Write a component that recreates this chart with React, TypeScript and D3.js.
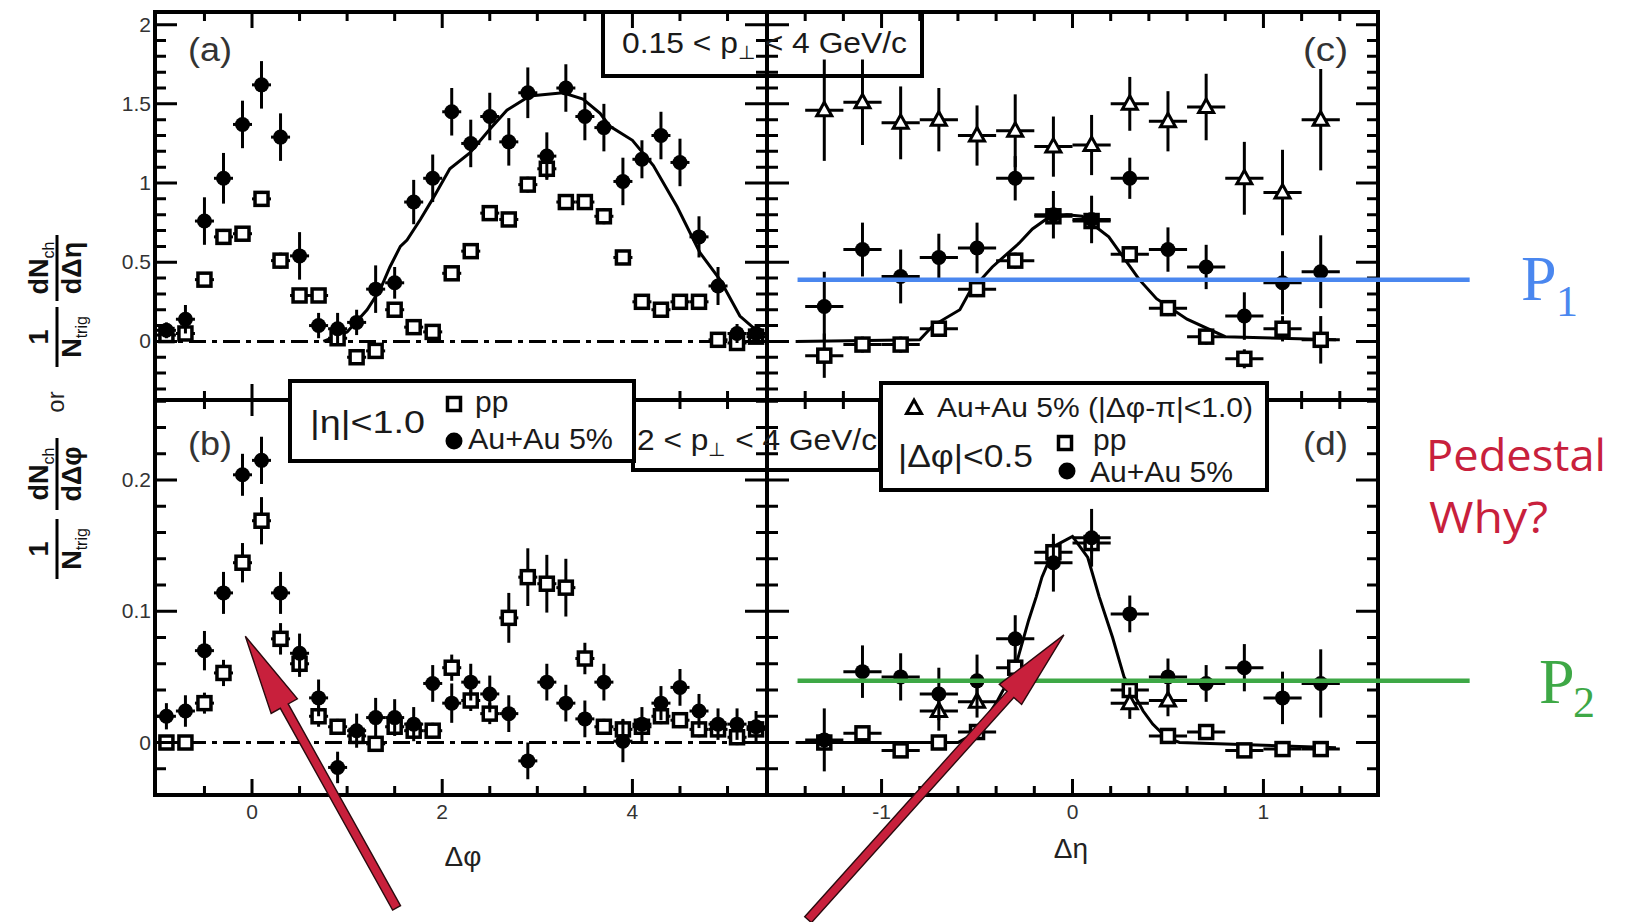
import React from "react";
import * as d3 from "d3";

// ---------- binning ----------
const phiBins = [-0.9, -0.7, -0.5, -0.3, -0.1, 0.1, 0.3, 0.5, 0.7, 0.9, 1.1, 1.3, 1.5, 1.7, 1.9, 2.1, 2.3, 2.5, 2.7, 2.9, 3.1, 3.3, 3.5, 3.7, 3.9, 4.1, 4.3, 4.5, 4.7, 4.9, 5.1, 5.3];
const etaBins = [-1.3, -1.1, -0.9, -0.7, -0.5, -0.3, -0.1, 0.1, 0.3, 0.5, 0.7, 0.9, 1.1, 1.3];

// ---------- (a) dN/dΔφ, 0.15 < pT < 4 GeV/c ----------
const aAuAu = [0.07, 0.14, 0.76, 1.03, 1.37, 1.62, 1.29, 0.54, 0.10, 0.08, 0.12, 0.33, 0.37, 0.88, 1.03, 1.45, 1.25, 1.42, 1.26, 1.57, 1.17, 1.60, 1.42, 1.35, 1.01, 1.15, 1.30, 1.13, 0.66, 0.35, 0.05, 0.05];
const aAuAuErr = [0.05, 0.09, 0.15, 0.16, 0.15, 0.15, 0.15, 0.15, 0.08, 0.10, 0.08, 0.15, 0.10, 0.14, 0.15, 0.15, 0.15, 0.15, 0.15, 0.16, 0.15, 0.15, 0.15, 0.15, 0.15, 0.12, 0.15, 0.15, 0.13, 0.12, 0.06, 0.06];
const aPP = [0.04, 0.05, 0.39, 0.66, 0.68, 0.90, 0.51, 0.29, 0.29, 0.02, -0.10, -0.06, 0.20, 0.09, 0.06, 0.43, 0.57, 0.81, 0.77, 0.99, 1.09, 0.88, 0.88, 0.79, 0.53, 0.25, 0.20, 0.25, 0.25, 0.01, -0.01, 0.03];
const aPPErr = [0.03, 0.03, 0.04, 0.05, 0.04, 0.05, 0.05, 0.04, 0.04, 0.03, 0.04, 0.04, 0.04, 0.03, 0.03, 0.04, 0.04, 0.04, 0.04, 0.05, 0.06, 0.05, 0.05, 0.05, 0.04, 0.04, 0.04, 0.04, 0.04, 0.03, 0.03, 0.03];
const aCurvePhi = [0.75, 1.0, 1.21, 1.35, 1.45, 1.56, 1.63, 1.77, 1.9, 2.08, 2.29, 2.5, 2.68, 2.92, 3.27, 3.48, 3.66, 3.76, 4.0, 4.22, 4.47, 4.71, 4.92, 5.13, 5.34];
const aCurveVal = [0.0, 0.06, 0.20, 0.33, 0.47, 0.60, 0.64, 0.77, 0.90, 1.09, 1.19, 1.34, 1.46, 1.55, 1.57, 1.53, 1.44, 1.36, 1.27, 1.11, 0.85, 0.56, 0.39, 0.16, 0.05];

// ---------- (b) dN/dΔφ, 2 < pT < 4 GeV/c ----------
const bAuAu = [0.020, 0.024, 0.070, 0.114, 0.204, 0.215, 0.114, 0.068, 0.034, -0.019, 0.009, 0.019, 0.019, 0.014, 0.045, 0.030, 0.046, 0.037, 0.022, -0.014, 0.046, 0.030, 0.018, 0.046, 0.001, 0.014, 0.030, 0.042, 0.024, 0.014, 0.014, 0.012];
const bAuAuErr = [0.010, 0.012, 0.015, 0.016, 0.016, 0.018, 0.016, 0.015, 0.014, 0.012, 0.013, 0.015, 0.014, 0.013, 0.014, 0.015, 0.014, 0.014, 0.014, 0.014, 0.014, 0.014, 0.014, 0.014, 0.016, 0.013, 0.013, 0.014, 0.013, 0.012, 0.012, 0.012];
const bPP = [0.0, 0.0, 0.030, 0.053, 0.137, 0.169, 0.079, 0.060, 0.020, 0.012, 0.005, -0.001, 0.012, 0.009, 0.009, 0.057, 0.032, 0.022, 0.095, 0.126, 0.121, 0.118, 0.064, 0.012, 0.010, 0.012, 0.020, 0.017, 0.010, 0.010, 0.004, 0.010];
const bPPErr = [0.005, 0.005, 0.008, 0.010, 0.015, 0.018, 0.012, 0.010, 0.008, 0.006, 0.006, 0.006, 0.006, 0.006, 0.006, 0.010, 0.008, 0.008, 0.019, 0.022, 0.022, 0.022, 0.012, 0.006, 0.008, 0.006, 0.006, 0.006, 0.006, 0.006, 0.006, 0.006];

// ---------- (c) dN/dΔη, 0.15 < pT < 4 GeV/c ----------
const cAway = [1.46, 1.51, 1.38, 1.40, 1.30, 1.33, 1.23, 1.24, 1.50, 1.39, 1.48, 1.03, 0.94, 1.40];
const cAwayErr = [0.32, 0.27, 0.23, 0.20, 0.19, 0.23, 0.19, 0.19, 0.17, 0.19, 0.21, 0.23, 0.27, 0.32];
const cNear = [0.22, 0.58, 0.41, 0.53, 0.59, 1.03, 0.80, 0.77, 1.03, 0.58, 0.47, 0.16, 0.37, 0.44];
const cNearErr = [0.22, 0.17, 0.17, 0.15, 0.16, 0.14, 0.15, 0.15, 0.13, 0.14, 0.14, 0.15, 0.20, 0.23];
const cPP = [-0.09, -0.02, -0.02, 0.08, 0.33, 0.51, 0.79, 0.76, 0.55, 0.21, 0.03, -0.11, 0.08, 0.01];
const cPPErr = [0.14, 0.05, 0.05, 0.05, 0.05, 0.05, 0.05, 0.05, 0.05, 0.05, 0.05, 0.06, 0.08, 0.15];
const cCurveEta = [-1.45, -0.8, -0.73, -0.59, -0.54, -0.42, -0.28, -0.21, -0.14, -0.03, 0.05, 0.19, 0.35, 0.44, 0.6, 0.8, 1.38];
const cCurveVal = [0.0, 0.01, 0.10, 0.20, 0.31, 0.47, 0.62, 0.71, 0.77, 0.80, 0.79, 0.66, 0.39, 0.27, 0.14, 0.03, 0.01];

// ---------- (d) dN/dΔη, 2 < pT < 4 GeV/c ----------
const dNear = [0.002, 0.054, 0.050, 0.037, 0.047, 0.079, 0.137, 0.156, 0.098, 0.050, 0.045, 0.057, 0.034, 0.045];
const dNearErr = [0.024, 0.020, 0.018, 0.020, 0.020, 0.018, 0.022, 0.022, 0.014, 0.014, 0.014, 0.018, 0.020, 0.026];
const dPP = [0.0, 0.007, -0.006, 0.0, 0.008, 0.057, 0.145, 0.152, 0.040, 0.005, 0.008, -0.006, -0.005, -0.005];
const dPPErr = [0.004, 0.004, 0.004, 0.004, 0.004, 0.006, 0.008, 0.008, 0.006, 0.004, 0.004, 0.004, 0.004, 0.004];
const dAwayEta = [-0.7, -0.5, 0.3, 0.5];
const dAway = [0.024, 0.031, 0.030, 0.032];
const dAwayErr = [0.015, 0.012, 0.012, 0.012];
const dCurveEta = [-1.45, -0.6, -0.5, -0.4, -0.3, -0.23, -0.19, -0.16, -0.09, 0.0, 0.08, 0.14, 0.21, 0.27, 0.31, 0.37, 0.42, 0.49, 0.56, 1.38];
const dCurveVal = [0.0, 0.0, 0.008, 0.03, 0.057, 0.093, 0.111, 0.126, 0.15, 0.157, 0.141, 0.111, 0.08, 0.05, 0.04, 0.024, 0.014, 0.004, 0.0, -0.004];

// ---------- pedestal levels ----------
const P1 = 0.39;
const P2 = 0.047;

// ---------- axis ticks / labels ----------
const phiTickVals = [-0.5, 0, 0.5, 1, 1.5, 2, 2.5, 3, 3.5, 4, 4.5, 5];
const phiMajor = [0, 2, 4];
const etaTickVals = [-1.4, -1.2, -1, -0.8, -0.6, -0.4, -0.2, 0, 0.2, 0.4, 0.6, 0.8, 1, 1.2, 1.4];
const etaMajor = [-1, 0, 1];
const topYTickVals = [-0.3, -0.2, -0.1, 0, 0.1, 0.2, 0.3, 0.4, 0.5, 0.6, 0.7, 0.8, 0.9, 1, 1.1, 1.2, 1.3, 1.4, 1.5, 1.6, 1.7, 1.8, 1.9, 2];
const topYMajor = [0, 0.5, 1, 1.5, 2];
const botYTickVals = [-0.02, 0, 0.02, 0.04, 0.06, 0.08, 0.1, 0.12, 0.14, 0.16, 0.18, 0.2, 0.22, 0.24, 0.26];
const botYMajor = [0, 0.1, 0.2];
const topYLabels = ["0", "0.5", "1", "1.5", "2"];
const botYLabels = ["0", "0.1", "0.2"];
const phiLabels = ["0", "2", "4"];
const etaLabels = ["-1", "0", "1"];

const W = 1625;
const H = 922;
const L = 155, R = 1378, T = 12, M = 400, B = 795, XM = 767;

const SANS = "'Liberation Sans', Arial, Helvetica, sans-serif";
const SERIF = "'Liberation Serif', 'Times New Roman', serif";
const BLUE = "#4a87ef";
const GREEN = "#3ea846";
const RED = "#c8203c";

type Kind = "filled" | "square" | "triangle";

function Marker({ kind, x, y }: { kind: Kind; x: number; y: number }) {
  if (kind === "filled") return <circle cx={x} cy={y} r={7.5} fill="#000" />;
  if (kind === "square")
    return <rect x={x - 6.5} y={y - 6.5} width={13} height={13} fill="#fff" stroke="#000" strokeWidth={3.5} />;
  return (
    <path d={`M${x},${y - 8}L${x + 7.5},${y + 5.5}L${x - 7.5},${y + 5.5}Z`} fill="#fff" stroke="#000" strokeWidth={3} />
  );
}

function Series(props: {
  xs: number[]; ys: number[]; errs: number[]; half: number; kind: Kind;
  xs_: d3.ScaleLinear<number, number>; ys_: d3.ScaleLinear<number, number>;
}) {
  const { xs, ys, errs, half, kind, xs_, ys_ } = props;
  return (
    <g>
      {xs.map((xv, i) => {
        const cx = xs_(xv);
        const cy = ys_(ys[i]);
        return (
          <g key={i}>
            <line x1={cx} x2={cx} y1={ys_(ys[i] - errs[i])} y2={ys_(ys[i] + errs[i])} stroke="#000" strokeWidth={3} />
            <line x1={xs_(xv - half)} x2={xs_(xv + half)} y1={cy} y2={cy} stroke="#000" strokeWidth={3} />
            <Marker kind={kind} x={cx} y={cy} />
          </g>
        );
      })}
    </g>
  );
}

function Fraction(props: { cy: number; len: number; num: string; numSub?: string; den: string; denSub?: string }) {
  const bx = 57;
  const { cy, len, num, numSub, den, denSub } = props;
  return (
    <g fontFamily={SANS} fill="#111">
      <line x1={bx} x2={bx} y1={cy - len / 2} y2={cy + len / 2} stroke="#000" strokeWidth={3} />
      <text transform={`translate(${bx - 9},${cy}) rotate(-90)`} textAnchor="middle" fontSize={27} fontWeight="bold">
        {num}
        {numSub ? <tspan fontSize={16} fontWeight="normal" dy={6}>{numSub}</tspan> : null}
      </text>
      <text transform={`translate(${bx + 24},${cy}) rotate(-90)`} textAnchor="middle" fontSize={27} fontWeight="bold">
        {den}
        {denSub ? <tspan fontSize={16} fontWeight="normal" dy={6}>{denSub}</tspan> : null}
      </text>
    </g>
  );
}

function Arrow({ x0, y0, x1, y1 }: { x0: number; y0: number; x1: number; y1: number }) {
  const dx = x1 - x0, dy = y1 - y0;
  const len = Math.hypot(dx, dy);
  const ux = dx / len, uy = dy / len;
  const nx = -uy, ny = ux;
  const sw = 4.5, hw = 15, hl = 80;
  const bx = x1 - ux * hl, by = y1 - uy * hl;
  const pts = [
    [x0 + nx * sw, y0 + ny * sw],
    [bx + nx * sw, by + ny * sw],
    [bx + nx * hw, by + ny * hw],
    [x1, y1],
    [bx - nx * hw, by - ny * hw],
    [bx - nx * sw, by - ny * sw],
    [x0 - nx * sw, y0 - ny * sw],
  ];
  return <polygon points={pts.map((p) => p.join(",")).join(" ")} fill={RED} stroke="#2a0a0e" strokeWidth={1.4} strokeLinejoin="miter" />;
}

export default function App() {
  const xPhi = d3.scaleLinear().domain([-1.02, 5.415]).range([L, XM]);
  const xEta = d3.scaleLinear().domain([-1.6, 1.6]).range([XM, R]);
  const yTop = d3.scaleLinear().domain([-0.37, 2.08]).range([M, T]);
  const yBot = d3.scaleLinear().domain([-0.04, 0.261]).range([B, M]);

  const near = (a: number, list: number[]) => list.some((v) => Math.abs(v - a) < 1e-6);

  // tick segments
  const segs: number[][] = [];
  phiTickVals.forEach((t) => {
    const len = near(t, phiMajor) ? 16 : 9;
    const x = xPhi(t);
    segs.push([x, B, x, B - len], [x, M, x, M - len], [x, M, x, M + len], [x, T, x, T + len]);
  });
  etaTickVals.forEach((t) => {
    const len = near(t, etaMajor) ? 16 : 9;
    const x = xEta(t);
    segs.push([x, B, x, B - len], [x, M, x, M - len], [x, M, x, M + len], [x, T, x, T + len]);
  });
  topYTickVals.forEach((t) => {
    const len = near(t, topYMajor) ? 22 : 11;
    const y = yTop(t);
    segs.push([L, y, L + len, y], [XM, y, XM - len, y], [XM, y, XM + len, y], [R, y, R - len, y]);
  });
  botYTickVals.forEach((t) => {
    const len = near(t, botYMajor) ? 22 : 11;
    const y = yBot(t);
    segs.push([L, y, L + len, y], [XM, y, XM - len, y], [XM, y, XM + len, y], [R, y, R - len, y]);
  });
  const tickPath = segs.map((s) => `M${s[0]},${s[1]}L${s[2]},${s[3]}`).join("");

  const lineA = d3.line<number>().x((_, i) => xPhi(aCurvePhi[i])).y((v) => yTop(v));
  const lineC = d3.line<number>().x((_, i) => xEta(cCurveEta[i])).y((v) => yTop(v));
  const lineD = d3.line<number>().x((_, i) => xEta(dCurveEta[i])).y((v) => yBot(v));

  const dash = "17 6 5 6";

  return (
    <svg width={W} height={H} style={{ position: "absolute", left: 0, top: 0, display: "block" }} xmlns="http://www.w3.org/2000/svg">
      <rect x={0} y={0} width={W} height={H} fill="#fff" />

      {/* zero reference lines */}
      <line x1={L} x2={XM} y1={yTop(0)} y2={yTop(0)} stroke="#000" strokeWidth={3} strokeDasharray={dash} />
      <line x1={L} x2={XM} y1={yBot(0)} y2={yBot(0)} stroke="#000" strokeWidth={3} strokeDasharray={dash} />

      {/* smooth references */}
      <path d={lineA(aCurveVal) || ""} fill="none" stroke="#000" strokeWidth={3} />
      <path d={lineC(cCurveVal) || ""} fill="none" stroke="#000" strokeWidth={3} />
      <path d={lineD(dCurveVal) || ""} fill="none" stroke="#000" strokeWidth={3} />

      {/* (a) */}
      <Series xs={phiBins} ys={aPP} errs={aPPErr} half={0.1} kind="square" xs_={xPhi} ys_={yTop} />
      <Series xs={phiBins} ys={aAuAu} errs={aAuAuErr} half={0.1} kind="filled" xs_={xPhi} ys_={yTop} />
      {/* (b) */}
      <Series xs={phiBins} ys={bPP} errs={bPPErr} half={0.1} kind="square" xs_={xPhi} ys_={yBot} />
      <Series xs={phiBins} ys={bAuAu} errs={bAuAuErr} half={0.1} kind="filled" xs_={xPhi} ys_={yBot} />
      {/* (c) */}
      <Series xs={etaBins} ys={cPP} errs={cPPErr} half={0.1} kind="square" xs_={xEta} ys_={yTop} />
      <Series xs={etaBins} ys={cAway} errs={cAwayErr} half={0.1} kind="triangle" xs_={xEta} ys_={yTop} />
      <Series xs={etaBins} ys={cNear} errs={cNearErr} half={0.1} kind="filled" xs_={xEta} ys_={yTop} />
      {/* (d) */}
      <Series xs={etaBins} ys={dPP} errs={dPPErr} half={0.1} kind="square" xs_={xEta} ys_={yBot} />
      <Series xs={dAwayEta} ys={dAway} errs={dAwayErr} half={0.1} kind="triangle" xs_={xEta} ys_={yBot} />
      <Series xs={etaBins} ys={dNear} errs={dNearErr} half={0.1} kind="filled" xs_={xEta} ys_={yBot} />

      {/* frame and ticks */}
      <rect x={L} y={T} width={R - L} height={B - T} fill="none" stroke="#000" strokeWidth={4} />
      <line x1={L} x2={R} y1={M} y2={M} stroke="#000" strokeWidth={4} />
      <line x1={XM} x2={XM} y1={T} y2={B} stroke="#000" strokeWidth={4} />
      <path d={tickPath} stroke="#000" strokeWidth={3} fill="none" />

      {/* tick labels */}
      <g fontFamily={SANS} fontSize={21} fill="#333">
        {topYMajor.map((v, i) => (
          <text key={"ty" + i} x={151} y={yTop(v) + 7} textAnchor="end">{topYLabels[i]}</text>
        ))}
        {botYMajor.map((v, i) => (
          <text key={"by" + i} x={151} y={yBot(v) + 7} textAnchor="end">{botYLabels[i]}</text>
        ))}
        {phiMajor.map((v, i) => (
          <text key={"px" + i} x={xPhi(v)} y={819} textAnchor="middle">{phiLabels[i]}</text>
        ))}
        {etaMajor.map((v, i) => (
          <text key={"ex" + i} x={xEta(v)} y={819} textAnchor="middle">{etaLabels[i]}</text>
        ))}
      </g>

      {/* axis titles */}
      <g fontFamily={SANS} fontSize={28} fill="#222">
        <text x={463} y={866} textAnchor="middle">Δφ</text>
        <text x={1071} y={858} textAnchor="middle">Δη</text>
      </g>
      <Fraction cy={268} len={66} num="dN" numSub="ch" den="dΔη" />
      <Fraction cy={337} len={60} num="1" den="N" denSub="trig" />
      <text transform="translate(64,402) rotate(-90)" textAnchor="middle" fontFamily={SANS} fontSize={24} fill="#222">or</text>
      <Fraction cy={474} len={72} num="dN" numSub="ch" den="dΔφ" />
      <Fraction cy={549} len={60} num="1" den="N" denSub="trig" />

      {/* panel tags */}
      <g fontFamily={SANS} fontSize={34} fill="#333">
        <text x={188} y={61} textLength={44} lengthAdjust="spacingAndGlyphs">(a)</text>
        <text x={188} y={455} textLength={44} lengthAdjust="spacingAndGlyphs">(b)</text>
        <text x={1303} y={61} textLength={45} lengthAdjust="spacingAndGlyphs">(c)</text>
        <text x={1303} y={455} textLength={45} lengthAdjust="spacingAndGlyphs">(d)</text>
      </g>

      {/* momentum-range boxes */}
      <rect x={603} y={T} width={319} height={64} fill="none" stroke="#000" strokeWidth={4} />
      <text x={622} y={53} fontFamily={SANS} fontSize={30} fill="#1a1a1a" textLength={285} lengthAdjust="spacingAndGlyphs">
        0.15 {"<"} p<tspan fontSize={19} dy={6}>⊥</tspan><tspan dy={-6}> {"<"} 4 GeV/c</tspan>
      </text>
      <rect x={633} y={M} width={247} height={70} fill="none" stroke="#000" strokeWidth={4} />
      <text x={637} y={450} fontFamily={SANS} fontSize={30} fill="#1a1a1a" textLength={240} lengthAdjust="spacingAndGlyphs">
        2 {"<"} p<tspan fontSize={19} dy={6}>⊥</tspan><tspan dy={-6}> {"<"} 4 GeV/c</tspan>
      </text>

      {/* legend for the Δφ panels */}
      <rect x={290} y={381} width={344} height={80} fill="#fff" stroke="#000" strokeWidth={4} />
      <g fontFamily={SANS} fill="#1a1a1a">
        <text x={310} y={433} fontSize={32} textLength={115} lengthAdjust="spacingAndGlyphs">|η|{"<"}1.0</text>
        <Marker kind="square" x={454} y={404} />
        <text x={475} y={412} fontSize={30}>pp</text>
        <circle cx={454} cy={441} r={8.5} fill="#000" />
        <text x={468} y={449} fontSize={30} textLength={145} lengthAdjust="spacingAndGlyphs">Au+Au 5%</text>
      </g>

      {/* legend for the Δη panels */}
      <rect x={881} y={383} width={386} height={107} fill="#fff" stroke="#000" strokeWidth={4} />
      <g fontFamily={SANS} fill="#1a1a1a">
        <Marker kind="triangle" x={914} y={408} />
        <text x={937} y={417} fontSize={27} textLength={316} lengthAdjust="spacingAndGlyphs">Au+Au 5% (|Δφ-π|{"<"}1.0)</text>
        <text x={898} y={467} fontSize={32} textLength={135} lengthAdjust="spacingAndGlyphs">|Δφ|{"<"}0.5</text>
        <Marker kind="square" x={1065} y={443} />
        <text x={1093} y={450} fontSize={30}>pp</text>
        <circle cx={1067} cy={471} r={8.5} fill="#000" />
        <text x={1090} y={482} fontSize={30} textLength={143} lengthAdjust="spacingAndGlyphs">Au+Au 5%</text>
      </g>

      {/* pedestal levels */}
      <line x1={xEta(-1.44)} x2={xEta(2.08)} y1={yTop(P1)} y2={yTop(P1)} stroke={BLUE} strokeWidth={4.5} />
      <line x1={xEta(-1.44)} x2={xEta(2.08)} y1={yBot(P2)} y2={yBot(P2)} stroke={GREEN} strokeWidth={4.5} />
      <text fontFamily={SERIF} fill={BLUE}>
        <tspan x={1521} y={300} fontSize={64}>P</tspan>
        <tspan x={1556} y={316} fontSize={44}>1</tspan>
      </text>
      <text fontFamily={SERIF} fill={GREEN}>
        <tspan x={1539} y={703} fontSize={64}>P</tspan>
        <tspan x={1573} y={717} fontSize={44}>2</tspan>
      </text>
      <g fontFamily="'Comic Sans MS', 'Open Sans', sans-serif" fill={RED} fontSize={44}>
        <text x={1426} y={471} textLength={180} lengthAdjust="spacingAndGlyphs">Pedestal</text>
        <text x={1429} y={533} textLength={119} lengthAdjust="spacingAndGlyphs">Why?</text>
      </g>

      {/* arrows pointing at the near-side peaks */}
      <Arrow x0={xPhi(1.52)} y0={yBot(-0.126)} x1={xPhi(-0.07)} y1={yBot(0.081)} />
      <Arrow x0={xEta(-1.385)} y0={yBot(-0.135)} x1={xEta(-0.045)} y1={yBot(0.082)} />
    </svg>
  );
}
